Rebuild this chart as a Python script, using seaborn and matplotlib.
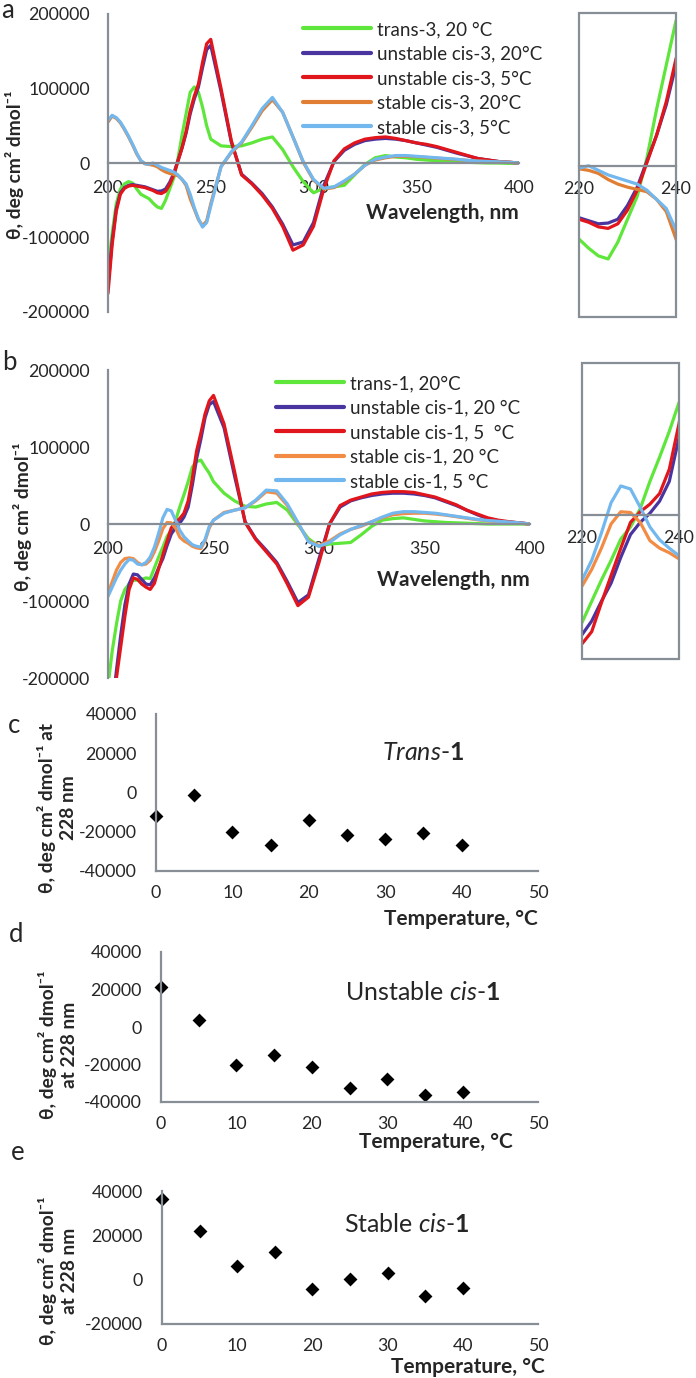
import numpy as np
import matplotlib
matplotlib.use("Agg")
import matplotlib.pyplot as plt
from matplotlib.patches import Rectangle
import pandas as pd
import seaborn as sns

W, H = 696, 1378

# wavelength grid, nm
wl = list(range(200, 251, 2)) + list(range(255, 401, 5))

# ---- panel a (compound 3) ----
labels_a = ["trans-3, 20 °C", "unstable cis-3, 20°C", "unstable cis-3, 5°C",
            "stable cis-3, 20°C", "stable cis-3, 5°C"]
trans3_20 = [-145000, -95000, -55000, -35000, -28000, -25000, -27000, -35000, -42000, -45000,
             -48000, -54000, -59000, -61000, -50000, -35000, -20000, 5000, 37000, 66000,
             95000, 102000, 95000, 75000, 50000, 32000,
             23000, 22000, 23000, 27000, 32000, 35000, 18000, -5000, -25000, -40000,
             -34000, -32000, -30000, -16000, -2000, 7000, 10000, 8000, 7000, 5000,
             4000, 3000, 2000, 1500, 1000, 500, 0, 0, -500, 0]
ucis3_20 = [-165000, -105000, -62000, -40000, -33000, -30000, -29000, -30000, -31000, -32000,
            -34000, -36000, -38000, -37500, -35000, -26000, -14000, 3000, 20000, 40000,
            66000, 86000, 102000, 128000, 152000, 158000,
            96000, 28000, -15000, -27000, -41000, -59000, -82000, -110000, -106000, -80000,
            -30000, 2000, 17000, 25000, 30000, 32000, 33000, 32000, 30000, 27000,
            24000, 21000, 17000, 13000, 9500, 6000, 4000, 2000, 1000, 0]
ucis3_5 = [-175000, -110000, -65000, -42000, -34000, -31000, -30000, -31000, -32000, -33000,
           -35000, -37000, -40000, -41000, -38000, -29000, -16000, 2000, 20000, 42000,
           70000, 90000, 106000, 135000, 160000, 166000,
           100000, 30000, -16000, -28000, -43000, -61000, -85000, -117000, -110000, -85000,
           -35000, 3000, 19000, 27000, 32000, 34000, 35000, 33000, 30000, 27000,
           25000, 22000, 18000, 14000, 10000, 6000, 4000, 2000, 1000, 0]
scis3_20 = [55000, 63000, 60000, 54000, 45000, 35000, 24000, 12000, 3000, -1000,
            -2000, -3000, -5000, -9000, -12000, -14000, -15500, -17000, -22000, -30000,
            -48000, -62000, -76000, -84000, -78000, -55000,
            -5000, 14000, 27000, 48000, 70000, 85000, 68000, 35000, 1000, -23000,
            -35000, -33000, -25000, -15000, -3000, 4000, 7000, 9000, 9000, 8500,
            7500, 6500, 5500, 4500, 3500, 2500, 2000, 1500, 1000, 0]
scis3_5 = [57000, 64000, 61000, 55000, 46000, 36000, 25000, 13000, 3000, -1000,
           -1500, 0, -3000, -6000, -8000, -10000, -12000, -16000, -22000, -28000,
           -42000, -60000, -75000, -86000, -80000, -58000,
           -5000, 15000, 28000, 50000, 73000, 88000, 68000, 35000, 2000, -22000,
           -34000, -32000, -24000, -15000, -3000, 5000, 8000, 10000, 10000, 9000,
           8000, 7000, 6000, 5000, 3500, 2500, 2000, 1500, 1000, 0]

# ---- panel b (compound 1) ----
labels_b = ["trans-1, 20°C", "unstable cis-1, 20 °C", "unstable cis-1, 5  °C",
            "stable cis-1, 20 °C", "stable cis-1, 5 °C"]
trans1_20 = [-210000, -165000, -130000, -100000, -85000, -78000, -73000, -73000, -72000, -70000,
             -71000, -57000, -43000, -30000, -16000, -8000, 4000, 22000, 38000, 55000,
             74000, 81000, 83000, 74000, 66000, 55000,
             40000, 30000, 23000, 22000, 26000, 28000, 18000, -1000, -19000, -29000,
             -26000, -25000, -24000, -14000, -3000, 5000, 7000, 8000, 6000, 4000,
             3000, 2000, 1500, 1000, 500, 0, 0, 0, 0, 0]
ucis1_20 = [-290000, -240000, -190000, -145000, -105000, -78000, -65000, -66000, -72000, -78000,
            -79000, -70000, -57000, -45000, -28000, -13000, -5000, 1000, 9000, 22000,
            51000, 85000, 110000, 138000, 155000, 159000,
            125000, 62000, 3000, -19000, -34000, -50000, -75000, -102000, -92000, -45000,
            0, 22000, 30000, 34000, 37000, 39000, 40000, 40000, 39000, 37000,
            34000, 29000, 24000, 18000, 12000, 7000, 4000, 2500, 1500, 0]
ucis1_5 = [-300000, -250000, -200000, -160000, -120000, -85000, -70000, -72000, -78000, -82000,
           -85000, -77000, -58000, -40000, -22000, -5000, 2000, 7000, 14000, 30000,
           60000, 95000, 118000, 143000, 160000, 167000,
           130000, 68000, 2000, -20000, -36000, -52000, -78000, -106000, -95000, -50000,
           0, 24000, 31000, 35000, 39000, 41000, 42000, 42000, 41000, 38000,
           35000, 30000, 25000, 18000, 13000, 8000, 5000, 3000, 1500, 0]
scis1_20 = [-90000, -75000, -60000, -50000, -45000, -44000, -45000, -50000, -53000, -52000,
            -47000, -36000, -22000, -6000, 2000, 1500, -5000, -17000, -22000, -25000,
            -29000, -31000, -32000, -22000, -5000, 5000,
            15000, 18000, 21000, 30000, 42000, 40000, 24000, 1000, -22000, -28000,
            -22000, -13000, -7000, -3000, 3000, 8000, 12000, 13500, 14000, 14000,
            13000, 11500, 9500, 7500, 5500, 4000, 3000, 2000, 1000, 0]
scis1_5 = [-94000, -82000, -70000, -60000, -52000, -46000, -47000, -52000, -53000, -50000,
           -43000, -30000, -12000, 8000, 19000, 17000, 5000, -8000, -16500, -22000,
           -27000, -29000, -30000, -20000, -3000, 5000,
           14000, 18000, 21000, 31000, 44000, 43000, 26000, 2000, -23000, -29000,
           -24000, -14000, -7000, -2000, 3000, 9000, 14000, 16000, 16000, 15000,
           14000, 12000, 10000, 8000, 6000, 4500, 3500, 2500, 1500, 0]

# ---- panels c-e: theta at 228 nm vs temperature ----
temps = [0, 5, 10, 15, 20, 25, 30, 35, 40]
trans1_228 = [-12000, -1500, -20000, -27000, -14000, -21500, -23500, -20500, -27000]
ucis1_228 = [21500, 3500, -20500, -15000, -21500, -32500, -27500, -36000, -34500]
scis1_228 = [36500, 22000, 6000, 12500, -4000, 300, 3000, -7500, -3800]

colors_a = ["#5ee63a", "#4a35a0", "#e0161c", "#e07f34", "#72b8ee"]
colors_b = ["#5ee63a", "#4a35a0", "#e0161c", "#f28c45", "#72b8ee"]

sns.set_style("white")
plt.rcParams['font.family'] = ['Lato', 'DejaVu Sans']
plt.rcParams['mathtext.fontset'] = 'custom'
plt.rcParams['mathtext.rm'] = 'Lato'
plt.rcParams['mathtext.it'] = 'Lato:italic'
plt.rcParams['mathtext.bf'] = 'Lato:bold'
plt.rcParams['axes.unicode_minus'] = False

GRAY = "#878e95"
TICK_FS = 12.8
XLAB_FS = 15
YLAB_FS = 13.8
LEG_FS = 13.5


def box(l, t, r, b):
    return [l / W, 1 - b / H, (r - l) / W, (b - t) / H]


def long_df(labels, series):
    df = pd.DataFrame({"wl": wl})
    for lab, s in zip(labels, series):
        df[lab] = s
    return df.melt(id_vars="wl", var_name="sample", value_name="theta")


def spectra(ax, df, labels, colors, legend):
    sns.lineplot(data=df, x="wl", y="theta", hue="sample", hue_order=labels,
                 palette=dict(zip(labels, colors)), estimator=None, sort=False,
                 lw=2.3, ax=ax, legend=legend)
    ax.set_xlabel("")
    ax.set_ylabel("")


def main_axes(ax):
    ax.set_xlim(200, 400)
    ax.set_ylim(-200000, 200000)
    ax.set_xticks([200, 250, 300, 350, 400])
    ax.set_yticks([-200000, -100000, 0, 100000, 200000])
    for s in ["top", "right"]:
        ax.spines[s].set_visible(False)
    ax.spines["bottom"].set_position(("data", 0))
    for s in ["left", "bottom"]:
        ax.spines[s].set_color(GRAY)
        ax.spines[s].set_linewidth(1.6)
    ax.tick_params(axis="x", direction="out", length=4, width=1.3, color=GRAY,
                   labelsize=TICK_FS, pad=8)
    ax.tick_params(axis="y", direction="out", length=4, width=1.3, color=GRAY,
                   labelsize=TICK_FS, pad=9)


def inset_axes(ax, ylo, yhi):
    ax.set_xlim(220, 240)
    ax.set_ylim(ylo, yhi)
    ax.set_xticks([220, 240])
    ax.set_yticks([])
    for s in ["top", "right", "left"]:
        ax.spines[s].set_visible(False)
    ax.spines["bottom"].set_position(("data", 0))
    ax.spines["bottom"].set_color(GRAY)
    ax.spines["bottom"].set_linewidth(1.6)
    ax.tick_params(axis="x", length=0, labelsize=TICK_FS, pad=11)
    ax.add_patch(Rectangle((0, 0), 1, 1, transform=ax.transAxes, fill=False,
                           ec=GRAY, lw=1.6, clip_on=False, zorder=5))
    ax.set_facecolor("none")


def place_legend(ax, x, y):
    sns.move_legend(ax, "upper left", bbox_to_anchor=(x / W, 1 - y / H),
                    bbox_transform=fig.transFigure, frameon=False, title=None,
                    fontsize=LEG_FS, handlelength=3.6, handletextpad=0.35,
                    labelspacing=0.4, borderpad=0, borderaxespad=0)
    for h in ax.get_legend().legend_handles:
        h.set_linewidth(3)


def scatter_axes(ax, y, ylim, yticks):
    sns.scatterplot(x=temps, y=y, marker="D", color="black", s=50, linewidth=0, ax=ax)
    ax.set_xlim(0, 50)
    ax.set_ylim(*ylim)
    ax.set_xticks([0, 10, 20, 30, 40, 50])
    ax.set_yticks(yticks)
    for s in ["top", "right"]:
        ax.spines[s].set_visible(False)
    for s in ["left", "bottom"]:
        ax.spines[s].set_color(GRAY)
        ax.spines[s].set_linewidth(1.6)
    ax.tick_params(direction="out", length=4, width=1.3, color=GRAY, labelsize=TICK_FS)
    ax.tick_params(axis="y", pad=10)
    ax.tick_params(axis="x", pad=6)
    for c in ax.collections:
        c.set_clip_on(False)


fig = plt.figure(figsize=(W / 100, H / 100), dpi=100)

df_a = long_df(labels_a, [trans3_20, ucis3_20, ucis3_5, scis3_20, scis3_5])
df_b = long_df(labels_b, [trans1_20, ucis1_20, ucis1_5, scis1_20, scis1_5])

# panel a
ax_a = fig.add_axes(box(108, 14, 519, 312))
spectra(ax_a, df_a, labels_a, colors_a, True)
main_axes(ax_a)
place_legend(ax_a, 303, 21)
ins_a = fig.add_axes(box(579, 13, 676, 317))
spectra(ins_a, df_a, labels_a, colors_a, False)
inset_axes(ins_a, -99000, 100000)

# panel b
ax_b = fig.add_axes(box(108, 370, 530, 678))
spectra(ax_b, df_b, labels_b, colors_b, True)
main_axes(ax_b)
place_legend(ax_b, 276, 375)
ins_b = fig.add_axes(box(582, 363, 679, 659))
spectra(ins_b, df_b, labels_b, colors_b, False)
inset_axes(ins_b, -95000, 100000)

# panels c, d, e
ax_c = fig.add_axes(box(156, 714, 538, 871))
scatter_axes(ax_c, trans1_228, (-40000, 40000), [-40000, -20000, 0, 20000, 40000])
ax_d = fig.add_axes(box(161, 952, 538, 1102))
scatter_axes(ax_d, ucis1_228, (-40000, 40000), [-40000, -20000, 0, 20000, 40000])
ax_e = fig.add_axes(box(162, 1191, 538, 1324))
scatter_axes(ax_e, scis1_228, (-20000, 40000), [-20000, 0, 20000, 40000])

# axis titles
ylab = "θ, deg cm² dmol⁻¹"
fig.text(15 / W, 1 - 165 / H, ylab, rotation=90, ha="center", va="center",
         fontweight="bold", fontsize=YLAB_FS)
fig.text(22 / W, 1 - 517 / H, ylab, rotation=90, ha="center", va="center",
         fontweight="bold", fontsize=YLAB_FS)
fig.text(57 / W, 1 - 808 / H, ylab + " at\n228 nm", rotation=90, ha="center", va="center",
         multialignment="center", linespacing=1.3, fontweight="bold", fontsize=YLAB_FS)
fig.text(58 / W, 1 - 1045 / H, ylab + "\nat 228 nm", rotation=90, ha="center", va="center",
         multialignment="center", linespacing=1.3, fontweight="bold", fontsize=YLAB_FS)
fig.text(58 / W, 1 - 1271 / H, ylab + "\nat 228 nm", rotation=90, ha="center", va="center",
         multialignment="center", linespacing=1.3, fontweight="bold", fontsize=YLAB_FS)

fig.text(519 / W, 1 - 213 / H, "Wavelength, nm", ha="right", va="center",
         fontweight="bold", fontsize=XLAB_FS)
fig.text(530 / W, 1 - 580 / H, "Wavelength, nm", ha="right", va="center",
         fontweight="bold", fontsize=XLAB_FS)
fig.text(538 / W, 1 - 919 / H, "Temperature, °C", ha="right", va="center",
         fontweight="bold", fontsize=XLAB_FS)
fig.text(513 / W, 1 - 1142 / H, "Temperature, °C", ha="right", va="center",
         fontweight="bold", fontsize=XLAB_FS)
fig.text(545 / W, 1 - 1367 / H, "Temperature, °C", ha="right", va="center",
         fontweight="bold", fontsize=XLAB_FS)

# sample names in c-e
fig.text(423 / W, 1 - 752 / H, r"$\mathit{Trans}$-$\mathbf{1}$", ha="center", va="center", fontsize=18)
fig.text(423 / W, 1 - 992 / H, r"Unstable $\mathit{cis}$-$\mathbf{1}$", ha="center", va="center", fontsize=18)
fig.text(407 / W, 1 - 1225 / H, r"Stable $\mathit{cis}$-$\mathbf{1}$", ha="center", va="center", fontsize=18)

# panel letters
for letter, x, y in [("a", 8, 11), ("b", 9, 362), ("c", 14, 725), ("d", 16, 934), ("e", 18, 1152)]:
    fig.text(x / W, 1 - y / H, letter, ha="center", va="center", fontsize=18.5)

fig.savefig("out.png", dpi=100)
